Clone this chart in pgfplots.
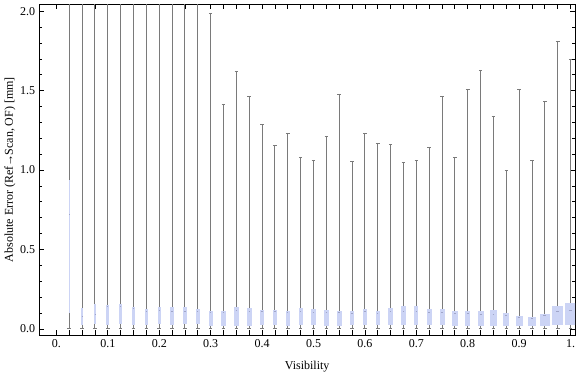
\documentclass[border=0pt]{standalone}
\usepackage{fontspec}
\setmainfont{Liberation Serif}
\usepackage{pgfplots}
\pgfplotsset{compat=1.18}
\usepgfplotslibrary{statistics}
\definecolor{boxblue}{RGB}{204,212,245}
\definecolor{whiskergray}{RGB}{122,122,122}
\definecolor{mediangray}{RGB}{160,165,200}
% position, lower whisker, lower quartile, median, upper quartile, upper whisker, box width
\newcommand{\bw}[7]{\addplot[whiskergray, boxplot prepared={draw direction=y, draw position=#1, lower whisker=#2, lower quartile=#3, median=#4, upper quartile=#5, upper whisker=#6, box extend=#7, whisker extend=0.007}] coordinates {};}
\begin{document}
\fontsize{12}{14}\selectfont
\begin{tikzpicture}
\begin{axis}[
  scale only axis, width=535.7pt, height=330.7pt,
  xmin=-0.0333, xmax=1.0086, ymin=-0.0384, ymax=2.044,
  axis line style={black, line width=0.8pt},
  tick align=inside, major tick length=5pt, minor tick length=3pt,
  tick style={black, line width=0.8pt},
  xtick={0,0.025,0.05,0.075,0.1,0.125,0.15,0.175,0.2,0.225,0.25,0.275,0.3,0.325,0.35,0.375,0.4,0.425,0.45,0.475,0.5,0.525,0.55,0.575,0.6,0.625,0.65,0.675,0.7,0.725,0.75,0.775,0.8,0.825,0.85,0.875,0.9,0.925,0.95,0.975,1},
  xticklabels={{0.},{},{},{},{0.1},{},{},{},{0.2},{},{},{},{0.3},{},{},{},{0.4},{},{},{},{0.5},{},{},{},{0.6},{},{},{},{0.7},{},{},{},{0.8},{},{},{},{0.9},{},{},{},{1.}},
  ytick={0,0.5,1,1.5,2},
  yticklabels={0.0,0.5,1.0,1.5,2.0},
  minor y tick num=4,
  /pgf/number format/assume math mode=true,
  tick label style={font=\fontsize{12}{14}\selectfont},
  label style={font=\fontsize{12}{14}\selectfont},
  every axis y label/.style={at={(axis description cs:-0.0547,0.5)}, rotate=90, anchor=center},
  every axis x label/.style={at={(axis description cs:0.5,-0.1058)}, anchor=base},
  xlabel={Visibility},
  ylabel={Absolute Error (Ref\kern-0.5pt→\kern-0.5pt Scan, OF) [mm]},
  boxplot/every box/.style={fill=boxblue, draw=none},
  boxplot/every whisker/.style={whiskergray, line width=1pt},
  boxplot/every median/.style={mediangray, line width=1pt},
  boxplot/draw/median/.code={\draw[/pgfplots/boxplot/every median/.try] (boxplot box cs:\pgfplotsboxplotvalue{median},0.35) -- (boxplot box cs:\pgfplotsboxplotvalue{median},0.65);},
]
\bw{0.025}{0}{0.10}{0.72}{0.94}{3}{0.0025}
\bw{0.05}{0}{0.025}{0.08}{0.134}{3}{0.0053}
\bw{0.075}{0}{0.029}{0.09}{0.157}{3}{0.0053}
\bw{0.1}{0}{0.027}{0.14}{0.148}{3}{0.0053}
\bw{0.125}{0}{0.029}{0.14}{0.157}{3}{0.0058}
\bw{0.15}{0}{0.027}{0.13}{0.138}{3}{0.0058}
\bw{0.175}{0}{0.027}{0.111}{0.123}{3}{0.0064}
\bw{0.2}{0}{0.029}{0.115}{0.136}{3}{0.0064}
\bw{0.225}{0}{0.027}{0.111}{0.138}{3}{0.0084}
\bw{0.25}{0}{0.029}{0.111}{0.138}{3}{0.0078}
\bw{0.275}{0}{0.029}{0.111}{0.123}{3}{0.0078}
\bw{0.3}{0}{0.02}{0.102}{0.113}{1.987}{0.0078}
\bw{0.325}{0}{0.02}{0.102}{0.113}{1.414}{0.0084}
\bw{0.35}{0}{0.02}{0.113}{0.138}{1.622}{0.0097}
\bw{0.375}{0}{0.02}{0.109}{0.132}{1.462}{0.0091}
\bw{0.4}{0}{0.025}{0.107}{0.119}{1.288}{0.0091}
\bw{0.425}{0}{0.025}{0.107}{0.119}{1.156}{0.0078}
\bw{0.45}{0}{0.02}{0.105}{0.113}{1.232}{0.0084}
\bw{0.475}{0}{0.027}{0.107}{0.134}{1.081}{0.0078}
\bw{0.5}{0}{0.027}{0.104}{0.125}{1.062}{0.0084}
\bw{0.525}{0}{0.02}{0.104}{0.119}{1.213}{0.0097}
\bw{0.55}{0}{0.02}{0.104}{0.113}{1.477}{0.0097}
\bw{0.575}{0}{0.027}{0.098}{0.113}{1.055}{0.0078}
\bw{0.6}{0}{0.027}{0.111}{0.125}{1.232}{0.0084}
\bw{0.625}{0}{0.027}{0.098}{0.113}{1.169}{0.0084}
\bw{0.65}{0}{0.027}{0.109}{0.132}{1.16}{0.0084}
\bw{0.675}{0}{0.027}{0.111}{0.144}{1.05}{0.0084}
\bw{0.7}{0}{0.027}{0.111}{0.144}{1.06}{0.0084}
\bw{0.725}{0}{0.027}{0.104}{0.125}{1.14}{0.0097}
\bw{0.75}{0}{0.027}{0.104}{0.125}{1.462}{0.0097}
\bw{0.775}{0}{0.02}{0.098}{0.113}{1.08}{0.0103}
\bw{0.8}{0}{0.02}{0.098}{0.113}{1.509}{0.0103}
\bw{0.825}{0}{0.02}{0.092}{0.113}{1.628}{0.0117}
\bw{0.85}{0}{0.02}{0.092}{0.119}{1.339}{0.0123}
\bw{0.875}{0}{0.02}{0.086}{0.10}{1.00}{0.0123}
\bw{0.9}{0}{0.02}{0.072}{0.081}{1.509}{0.0142}
\bw{0.925}{0}{0.02}{0.067}{0.075}{1.06}{0.0161}
\bw{0.95}{0}{0.02}{0.082}{0.094}{1.433}{0.0181}
\bw{0.975}{0}{0.027}{0.111}{0.144}{1.811}{0.0220}
\bw{1.0}{0}{0.027}{0.119}{0.163}{1.698}{0.0233}
\end{axis}
\pgfresetboundingbox
\path[use as bounding box] (current axis.south west) ++(-39.3pt,-40pt) rectangle ++(576pt,375pt);
\end{tikzpicture}
\end{document}
